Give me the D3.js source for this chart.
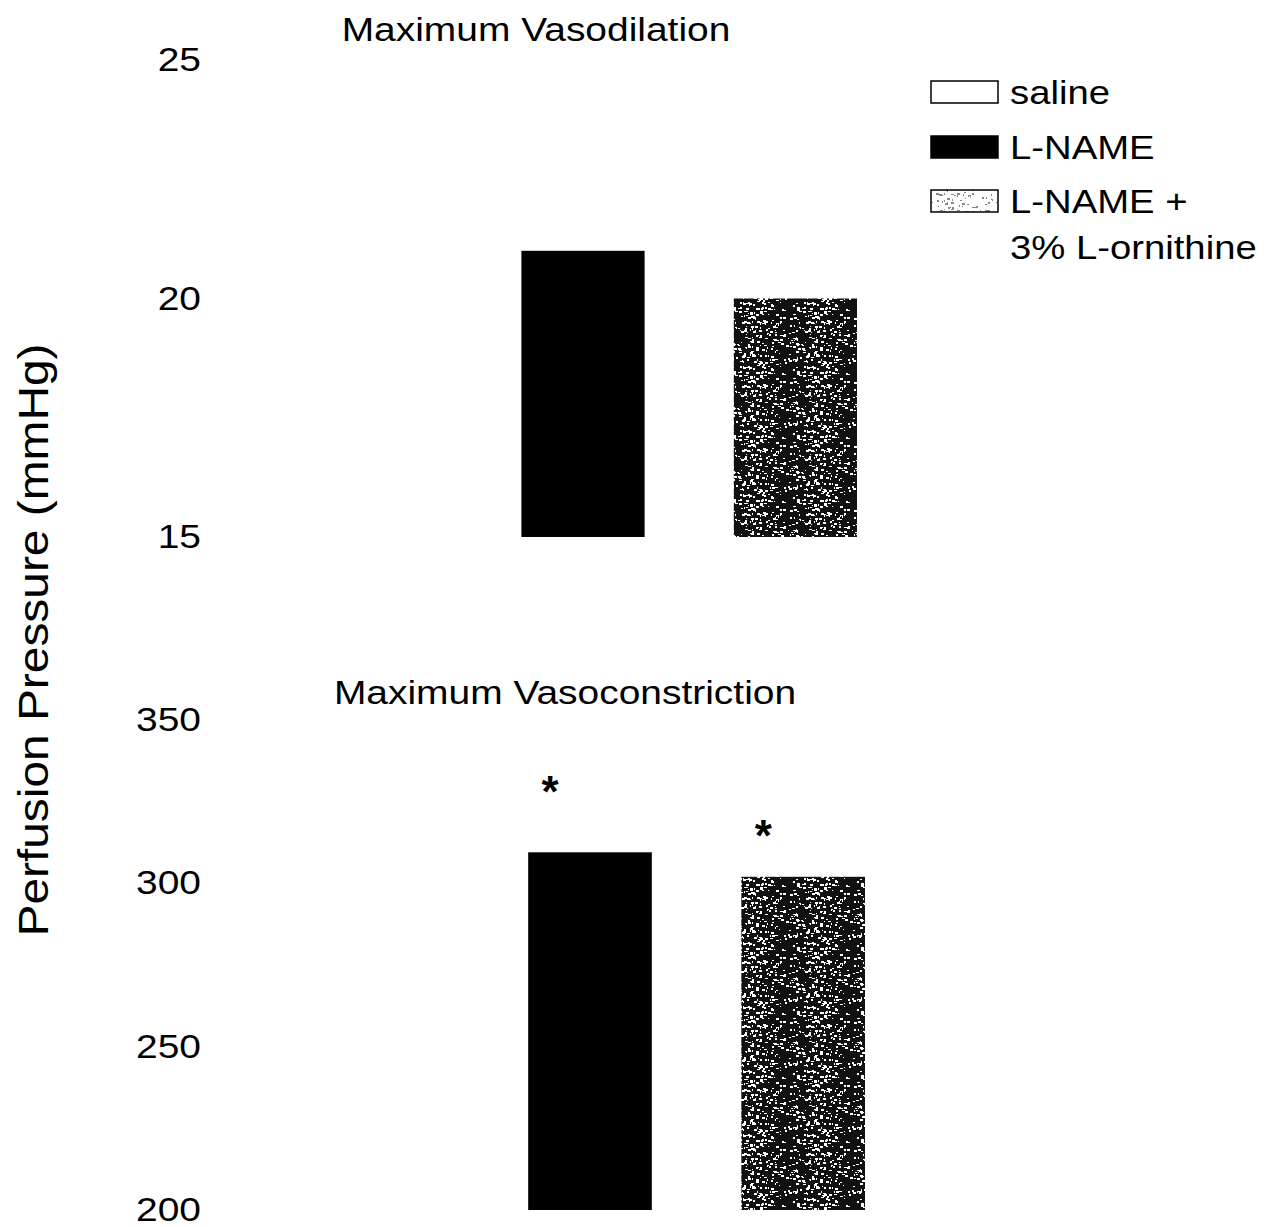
<!DOCTYPE html>
<html>
<head>
<meta charset="utf-8">
<script src="https://cdn.jsdelivr.net/npm/d3@7"></script>
<style>
  body { margin: 0; background: #fff; }
  text { font-family: "Liberation Sans", Arial, sans-serif; fill: #000; }
</style>
</head>
<body>
<div id="vis-holder"></div>
<script>
// groups and values
var GROUPS = ["saline", "L-NAME", "L-NAME + 3% L-ornithine"];
var dilationValues = [19.0, 21.0, 20.0];        // saline bar is white, not visible
var constrictionValues = [250, 309.5, 302];
var dilationTicks = [15, 20, 25];
var constrictionTicks = [200, 250, 300, 350];
var starMarks = [{group: "L-NAME", at: 331}, {group: "L-NAME + 3% L-ornithine", at: 317.5}];
var legendLines = [["saline"], ["L-NAME"], ["L-NAME +", "3% L-ornithine"]];

var W = 1288, H = 1227;
var STRETCH = 1.18;   // the printed type is a little wider than Arial

var svg = d3.select("#vis-holder")
  .append("svg")
    .attr("width", W)
    .attr("height", H);

// speckled fill, made with a small fixed generator so it looks like the print
var defs = svg.append("defs");
function speckle(id, bg, fg, count) {
  var seed = 7;
  function rnd() { seed = (seed * 16807) % 2147483647; return seed / 2147483647; }
  var p = defs.append("pattern")
    .attr("id", id)
    .attr("patternUnits", "userSpaceOnUse")
    .attr("width", 64).attr("height", 64);
  p.append("rect").attr("width", 64).attr("height", 64).attr("fill", bg);
  for (var i = 0; i < count; i++) {
    p.append("rect")
      .attr("x", Math.floor(rnd() * 64))
      .attr("y", Math.floor(rnd() * 64))
      .attr("width", 1 + Math.floor(rnd() * 3))
      .attr("height", 1 + Math.floor(rnd() * 2))
      .attr("fill", fg);
  }
}
speckle("dark-speckle", "#111", "#fff", 260);
speckle("light-speckle", "#fff", "#888", 160);

var fills = {"saline": "#fff", "L-NAME": "#000", "L-NAME + 3% L-ornithine": "url(#dark-speckle)"};

// stretched text placed at (x, y)
function wideText(parent, x, y, str, size, anchor, sx) {
  return parent.append("g")
    .attr("transform", "translate(" + x + "," + y + ") scale(" + (sx || STRETCH) + ",1)")
    .append("text")
      .attr("text-anchor", anchor || "start")
      .style("font-size", size + "px")
      .text(str);
}

function panel(opts) {
  var x = d3.scaleBand()
    .domain(GROUPS)
    .range(opts.xRange)
    .paddingInner(0.42)
    .paddingOuter(0);

  var y = d3.scaleLinear()
    .domain(opts.domain)
    .range(opts.yRange);

  var g = svg.append("g");

  // y tick labels only, no axis line
  var ax = g.append("g")
    .attr("transform", "translate(207,0)")
    .call(d3.axisLeft(y).tickValues(opts.ticks).tickSize(0).tickPadding(6));
  ax.select(".domain").remove();
  ax.selectAll("text")
    .style("font-family", "'Liberation Sans', Arial, sans-serif")
    .style("font-size", "33px")
    .attr("fill", "#000")
    .attr("x", -6 / STRETCH)
    .attr("transform", "scale(" + STRETCH + ",1)");

  g.selectAll("rect.bar")
    .data(opts.values.map((v, i) => ({group: GROUPS[i], value: v})))
    .enter()
    .append("rect")
      .attr("class", "bar")
      .attr("x", d => x(d.group))
      .attr("y", d => y(d.value))
      .attr("width", x.bandwidth())
      .attr("height", d => y(opts.domain[0]) - y(d.value))
      .attr("fill", d => fills[d.group]);

  wideText(g, opts.titleX, opts.titleY, opts.title, 33, "middle");

  return {x: x, y: y, g: g};
}

var top = panel({
  xRange: [309, 857],
  yRange: [537, 60],
  domain: [15, 25],
  ticks: dilationTicks,
  values: dilationValues,
  title: "Maximum Vasodilation",
  titleX: 536, titleY: 41
});

var bottom = panel({
  xRange: [315, 865],
  yRange: [1210, 720],
  domain: [200, 350],
  ticks: constrictionTicks,
  values: constrictionValues,
  title: "Maximum Vasoconstriction",
  titleX: 565, titleY: 704
});

// significance stars
bottom.g.selectAll("text.star")
  .data(starMarks)
  .enter()
  .append("text")
    .attr("class", "star")
    .attr("x", d => bottom.x(d.group) + 22)
    .attr("y", d => bottom.y(d.at) + 25)
    .attr("text-anchor", "middle")
    .style("font-size", "44px")
    .style("font-weight", "bold")
    .text("*");

// y axis title
svg.append("g")
  .attr("transform", "translate(48,640) rotate(-90) scale(1.14,1)")
  .append("text")
    .attr("text-anchor", "middle")
    .style("font-size", "42px")
    .text("Perfusion Pressure (mmHg)");

// legend
var legendFills = ["#fff", "#000", "url(#light-speckle)"];
var legendRows = [92, 147, 201];
var lg = svg.append("g");
legendLines.forEach(function (lines, i) {
  lg.append("rect")
    .attr("x", 931)
    .attr("y", legendRows[i] - 11)
    .attr("width", 67)
    .attr("height", 22)
    .attr("fill", legendFills[i])
    .attr("stroke", "#000")
    .attr("stroke-width", 1.5);
  lines.forEach(function (t, j) {
    wideText(lg, 1010, legendRows[i] + 12 + j * 46, t, 33, "start", 1.16);
  });
});
</script>
</body>
</html>
